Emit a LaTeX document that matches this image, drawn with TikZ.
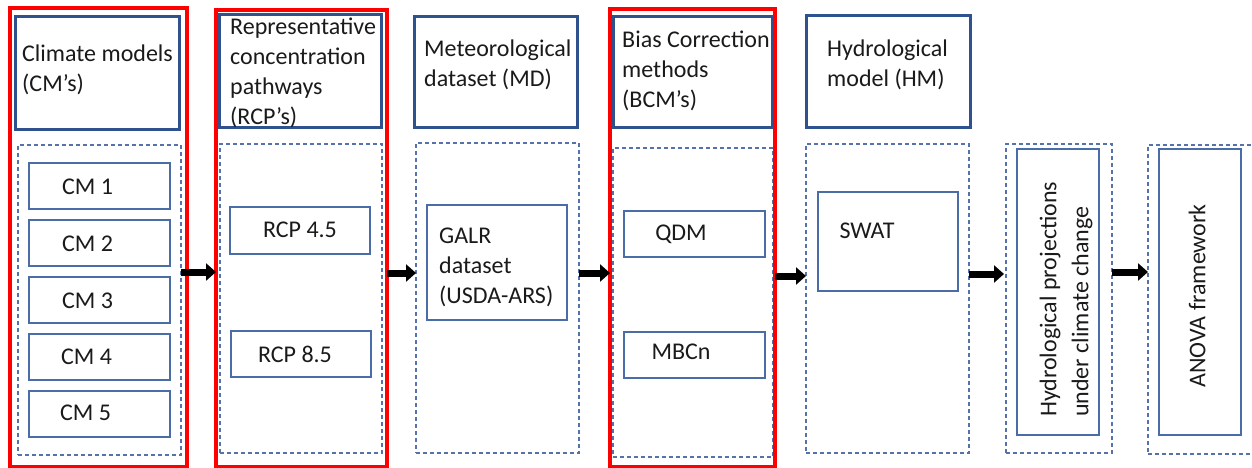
\documentclass[tikz,border=0pt]{standalone}
\usepackage{fontspec}
\setmainfont{Carlito}
\usetikzlibrary{arrows.meta,fit}

\definecolor{hdrblue}{HTML}{2F528F}
\definecolor{subblue}{HTML}{4A6DA7}
\definecolor{dashblue}{HTML}{5573AA}
\definecolor{groupred}{HTML}{FF0000}
\definecolor{ink}{HTML}{1A1A1A}

\tikzset{
  header/.style={draw=hdrblue, line width=3pt, inner sep=0pt, outer sep=0pt},
  stage/.style={draw=dashblue, line width=1.2pt, dash pattern=on 4pt off 3pt, inner sep=0pt, outer sep=0pt},
  item/.style={draw=subblue, line width=1.4pt, inner sep=0pt, outer sep=0pt},
  group/.style={draw=groupred, line width=3.5pt, inner sep=0pt, outer sep=0pt},
  lbl/.style={font=\fontsize{24}{30}\selectfont, text=ink, inner sep=0pt, align=left},
  vlbl/.style={lbl, font=\fontsize{24}{32}\selectfont, rotate=90},
  flow/.style={line width=7pt, -{Triangle[length=10pt,width=17pt]}},
}

\begin{document}
\begin{tikzpicture}[x=1pt, y=-1pt]
\useasboundingbox (0,0) rectangle (1252,468);

% ---- dashed stage frames ----
\node[stage, fit={(18,145) (181,455)}] (s1) {};
\node[stage, fit={(220,144) (382,453)}] (s2) {};
\node[stage, fit={(416,143) (579,453)}] (s3) {};
\node[stage, fit={(613,148) (773,457)}] (s4) {};
\node[stage, fit={(806,144) (969,453)}] (s5) {};
\node[stage, fit={(1006,144) (1112,453)}] (s6) {};
\node[stage, fit={(1148,145) (1262,454)}] (s7) {};

% ---- climate models ----
\node[item, fit={(29,163) (170,209)}] (cm1) {};
\node[item, fit={(29,220) (170,266)}] (cm2) {};
\node[item, fit={(29,277) (170,323)}] (cm3) {};
\node[item, fit={(29,334) (170,380)}] (cm4) {};
\node[item, fit={(29,391) (170,437)}] (cm5) {};
\node[lbl, anchor=west] (tcm1) at (62,187) {CM 1};
\node[lbl, anchor=west] (tcm2) at (62,244) {CM 2};
\node[lbl, anchor=west] (tcm3) at (62,301) {CM 3};
\node[lbl, anchor=west] (tcm4) at (61,357) {CM 4};
\node[lbl, anchor=west] (tcm5) at (60,413) {CM 5};

% ---- emission pathways ----
\node[item, fit={(230,207) (370,254)}] (rcp45) {};
\node[item, fit={(231,331) (371,377)}] (rcp85) {};
\node[lbl] (trcp45) at (300,230) {RCP 4.5};
\node[lbl] (trcp85) at (295,354) {RCP 8.5};

% ---- meteorological data ----
\node[item, fit={(427,205) (567,320)}] (galr) {};
\node[lbl, anchor=west] (tgalr) at (439,267) {GALR\\dataset\\(USDA-ARS)};

% ---- bias correction ----
\node[item, fit={(624,211) (765,257)}] (qdm) {};
\node[item, fit={(624,332) (765,378)}] (mbcn) {};
\node[lbl] (tqdm) at (681,234) {QDM};
\node[lbl] (tmbcn) at (681,352) {MBCn};

% ---- hydrological model ----
\node[item, fit={(818,192) (958,291)}] (swat) {};
\node[lbl] (tswat) at (867,231) {SWAT};

% ---- projections and ANOVA ----
\node[item, fit={(1017,149) (1099,435)}] (proj) {};
\node[vlbl, anchor=west] (tproj) at (1066,417) {Hydrological projections\\under climate change};
\node[item, fit={(1159,149) (1241,435)}] (anova) {};
\node[vlbl] (tanova) at (1197,296) {ANOVA framework};

% ---- stage headers ----
\node[header, fit={(15,17) (179,130)}] (h1) {};
\node[header, fit={(219,15) (381,128)}] (h2) {};
\node[header, fit={(414,17) (577,128)}] (h3) {};
\node[header, fit={(613,17) (772,128)}] (h4) {};
\node[header, fit={(806,16) (970,128)}] (h5) {};
\node[lbl, anchor=west] (th1) at (22,70) {Climate models\\(CM’s)};
\node[lbl, anchor=west] (th2) at (230,73) {Representative\\concentration\\pathways\\(RCP’s)};
\node[lbl, anchor=west] (th3) at (424,65) {Meteorological\\dataset (MD)};
\node[lbl, anchor=west] (th4) at (622,71) {Bias Correction\\methods\\(BCM’s)};
\node[lbl, anchor=west] (th5) at (827,65) {Hydrological\\model (HM)};

% ---- highlighted groups ----
\node[group, fit={(10,8) (187,467)}] (g1) {};
\node[group, fit={(216,10) (387,467)}] (g2) {};
\node[group, fit={(610,9) (775,467)}] (g3) {};

% ---- flow arrows ----
\draw[flow] (s1.east |- 0,272) -- (g2.west |- 0,272);
\draw[flow] (g2.east |- 0,273) -- (s3.west |- 0,273);
\draw[flow] (s3.east |- 0,273) -- (g3.west |- 0,273);
\draw[flow] (g3.east |- 0,276) -- (s5.west |- 0,276);
\draw[flow] (s5.east |- 0,274) -- ([xshift=-2pt]s6.west |- 0,274);
\draw[flow] (s6.east |- 0,272) -- (s7.west |- 0,272);
\end{tikzpicture}
\end{document}
